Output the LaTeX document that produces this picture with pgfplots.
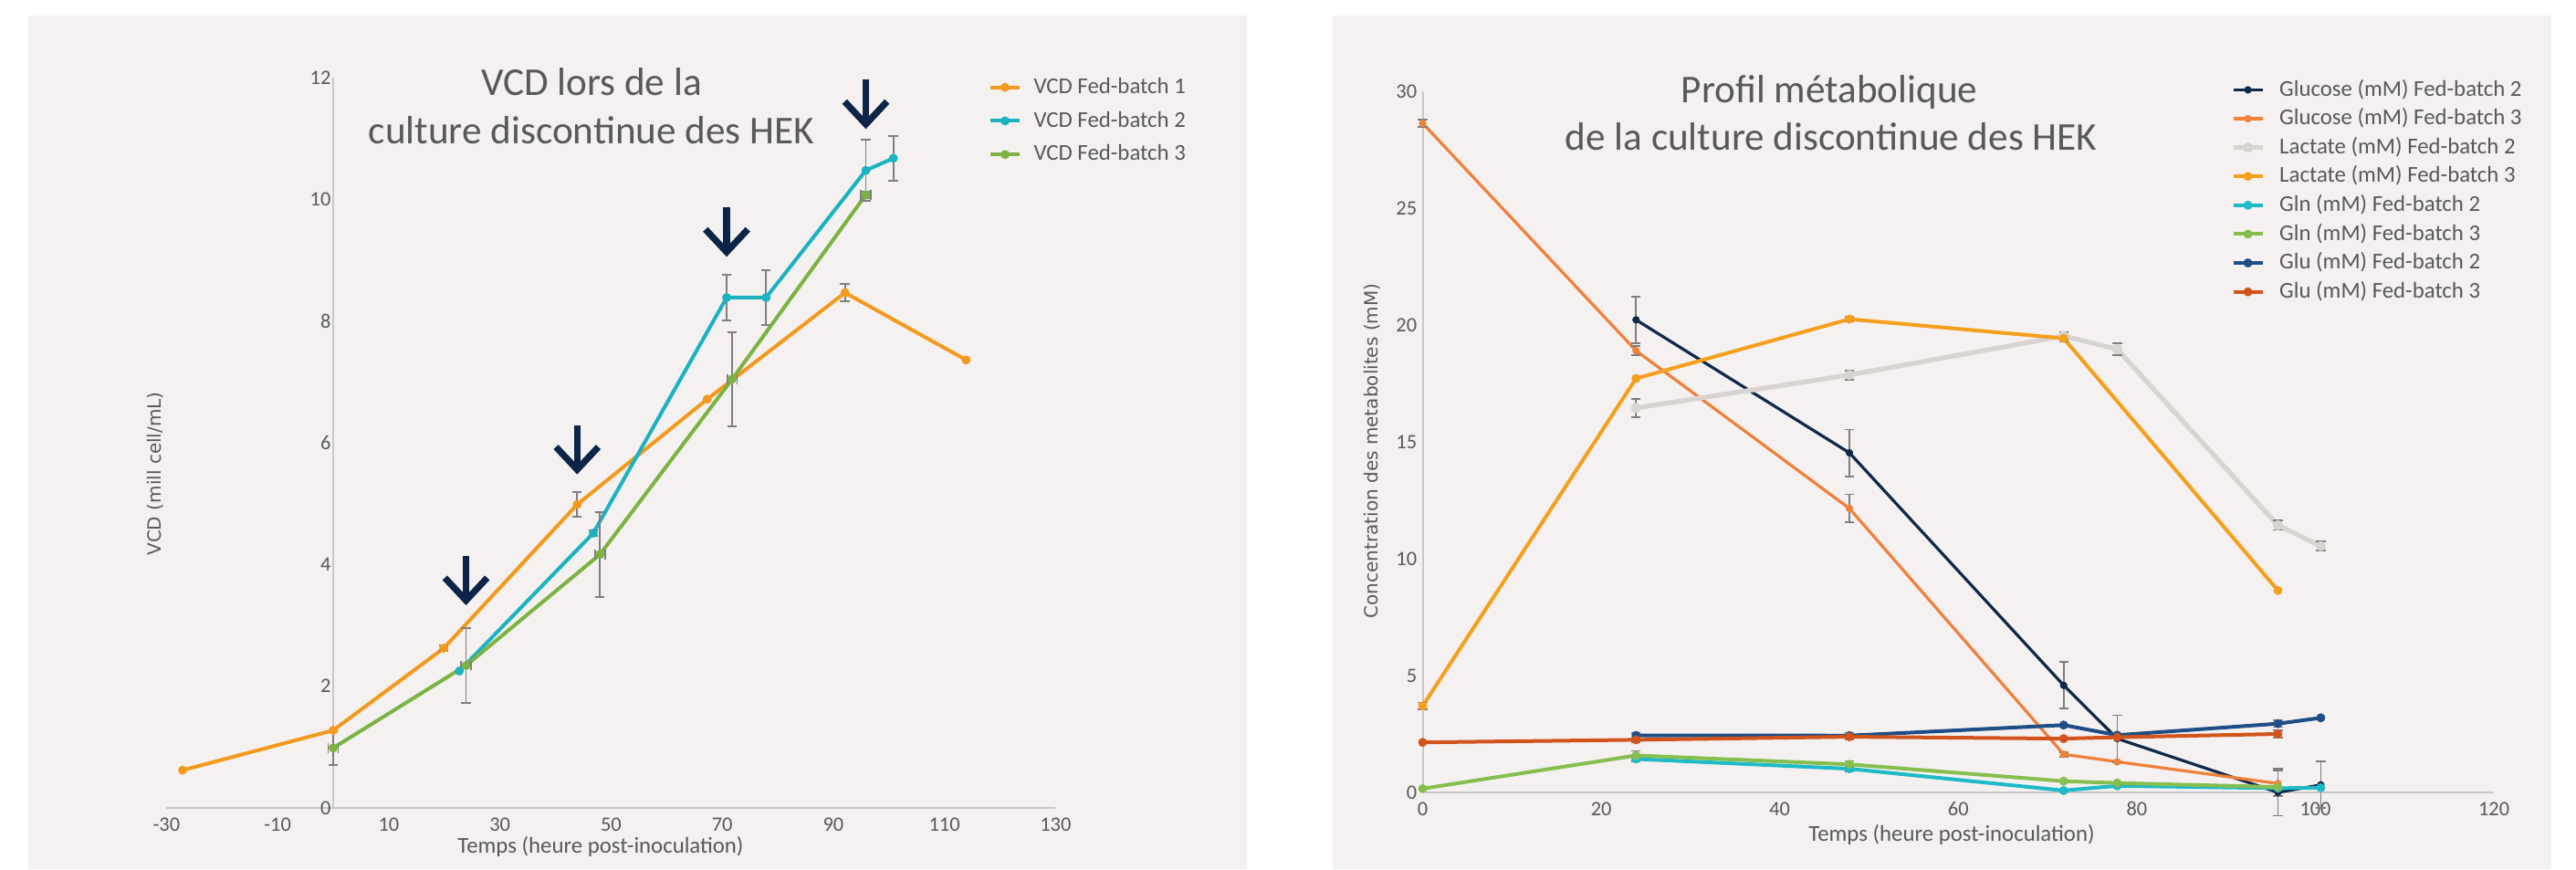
\documentclass[border=0pt]{standalone}
\usepackage{pgfplots}
\pgfplotsset{compat=1.18}
\usepackage{fontspec}
\setmainfont{Carlito}
\newfontfamily\dejavu{DejaVu Sans}

\definecolor{panel}{HTML}{F4F1F0}
\definecolor{txt}{HTML}{595959}
\definecolor{axg}{HTML}{C8C8C8}
\definecolor{errg}{HTML}{7F7F7F}
\definecolor{cA}{HTML}{F39A1E}
\definecolor{cB}{HTML}{1CB2C2}
\definecolor{cC}{HTML}{7CB342}
\definecolor{arr}{HTML}{0B2447}
\definecolor{glucB}{HTML}{10284A}
\definecolor{glucC}{HTML}{F0803A}
\definecolor{lacB}{HTML}{D9D3D2}
\definecolor{lacC}{HTML}{F5A01C}
\definecolor{glnB}{HTML}{1DBAC8}
\definecolor{glnC}{HTML}{86BE4F}
\definecolor{gluB}{HTML}{1F4E87}
\definecolor{gluC}{HTML}{D2541C}

\pgfplotsset{
  myax/.style={
    scale only axis, anchor=south west, clip=false,
    axis lines*=left,
    axis line style={draw=axg, line width=0.5pt},
    major tick length=0pt, tick style={draw=none},
    /pgf/number format/assume math mode=true,
    tick label style={font=\fontsize{5.6pt}{6pt}\selectfont, text=txt, inner sep=0pt},
    legend cell align=left,
    legend image code/.code={\draw[mark repeat=2,mark phase=2,##1] plot coordinates {(0pt,0pt) (4pt,0pt) (8pt,0pt)};},
  },
  errb/.style={forget plot, draw=none, mark=none,
    error bars/.cd, y dir=both, y explicit,
    error bar style={draw=errg, line width=0.45pt, solid},
    error mark options={rotate=90, draw=errg, line width=0.45pt, mark size=1.3pt}},
  errxy/.style={forget plot, draw=none, mark=none,
    error bars/.cd, y dir=both, y explicit, x dir=both, x explicit,
    error bar style={draw=errg, line width=0.45pt, solid},
    error mark options={rotate=90, draw=errg, line width=0.45pt, mark size=1.3pt}},
}

\newcommand{\feedarrow}[2]{%
  \draw[arr, line width=1.8pt] ([yshift=1.4pt]axis cs:#1,#2) -- ([yshift=13.6pt]axis cs:#1,#2);
  \draw[arr, line width=1.8pt, miter limit=10] ([shift={(-5.8pt,7.6pt)}]axis cs:#1,#2) -- ([yshift=1.4pt]axis cs:#1,#2) -- ([shift={(5.8pt,7.6pt)}]axis cs:#1,#2);
}

\begin{document}
\begin{tikzpicture}
\useasboundingbox (0,0) rectangle (705.5pt,238pt);
\fill[panel] (7.75pt,0) rectangle (341.5pt,233.75pt);
\fill[panel] (365pt,0) rectangle (698.75pt,233.75pt);

% ---------------- Left chart ----------------
\begin{axis}[myax,
  at={(45.6pt,16.75pt)}, width=243.5pt, height=200pt,
  xmin=-30, xmax=130, ymin=0, ymax=12,
  xtick={-30,-10,...,130}, ytick={0,2,...,12},
  y axis line style={draw=none},
  xticklabel style={yshift=-2.5pt},
  yticklabel style={anchor=east, xshift=45.2pt},
  legend style={at={(0.9246,1.0009)}, anchor=north west, draw=none, fill=none,
    inner sep=0pt, outer sep=0pt, row sep=3.5pt,
    font=\fontsize{6.2pt}{7pt}\selectfont, text=txt,
    nodes={inner sep=0pt, text height=4.5pt, text depth=1.2pt},
    /tikz/every odd column/.append style={column sep=3.4pt}},
]
\draw[axg, line width=0.5pt] (axis cs:0,0) -- (axis cs:0,12);
\addplot[cA, line width=1pt, mark=*, mark size=0.7pt] coordinates {
  (-27.1,0.62) (0,1.275) (19.9,2.625) (43.9,4.985) (67.3,6.715) (92.1,8.465) (113.9,7.36)};
\addlegendentry{VCD Fed-batch 1}
\addplot[cB, line width=1pt, mark=*, mark size=0.7pt] coordinates {
  (22.7,2.25) (46.8,4.515) (70.8,8.385) (77.9,8.385) (95.85,10.475) (100.8,10.675)};
\addlegendentry{VCD Fed-batch 2}
\addplot[cC, line width=1pt, mark=*, mark size=0.7pt] coordinates {
  (0,0.985) (23.9,2.34) (48.0,4.165) (71.8,7.045) (95.85,10.075)};
\addlegendentry{VCD Fed-batch 3}
\addplot[errb] coordinates {
  (19.9,2.625) +- (0,0.05) (43.9,4.985) +- (0,0.205) (92.1,8.465) +- (0,0.14)};
\addplot[errb] coordinates {
  (46.8,4.515) +- (0,0.05) (70.8,8.385) +- (0,0.37) (77.9,8.385) +- (0,0.45)
  (95.85,10.475) +- (0,0.5) (100.8,10.675) +- (0,0.37)};
\addplot[errxy] coordinates {
  (0,0.985) +- (0.9,0.275) (23.9,2.34) +- (0.9,0.61) (48.0,4.165) +- (0.9,0.7)
  (71.8,7.045) +- (0.9,0.77) (95.85,10.075) +- (0.9,0.05)};
\feedarrow{23.9}{3.325}
\feedarrow{43.9}{5.475}
\feedarrow{70.8}{9.05}
\feedarrow{95.85}{11.15}
\end{axis}

\node[anchor=base, font=\fontsize{10.8pt}{12pt}\selectfont, text=txt, inner sep=0pt] at (162pt,211.75pt) {VCD lors de la};
\node[anchor=base, font=\fontsize{10.8pt}{12pt}\selectfont, text=txt, inner sep=0pt] at (162pt,198.5pt) {culture discontinue des HEK};
\node[anchor=base, font=\fontsize{6.2pt}{7pt}\selectfont, text=txt, inner sep=0pt] at (164.5pt,4.5pt) {Temps (heure post-inoculation)};
\node[rotate=90, font=\dejavu\fontsize{5pt}{6pt}\selectfont, text=txt, inner sep=0pt] at (42.5pt,108.25pt) {VCD (mill cell/mL)};

% ---------------- Right chart ----------------
\begin{axis}[myax,
  at={(389.625pt,20.875pt)}, width=293.4pt, height=192pt,
  xmin=0, xmax=120, ymin=0, ymax=30,
  xtick={0,20,...,120}, ytick={0,5,...,30},
  xticklabel style={yshift=-2.3pt},
  yticklabel style={xshift=-1.4pt},
  legend style={at={(0.7545,1.0175)}, anchor=north west, draw=none, fill=none,
    inner sep=0pt, outer sep=0pt, row sep=2.2pt,
    font=\fontsize{6.2pt}{7pt}\selectfont, text=txt,
    nodes={inner sep=0pt, text height=4.5pt, text depth=1.2pt},
    /tikz/every odd column/.append style={column sep=4pt}},
]
\addplot[glucB, line width=0.8pt, mark=*, mark size=0.6pt] coordinates {
  (23.9,20.24) (47.8,14.55) (71.8,4.6) (77.8,2.32) (95.8,0.02) (100.6,0.34)};
\addlegendentry{Glucose (mM) Fed-batch 2}
\addplot[glucC, line width=0.8pt, mark=*, mark size=0.6pt] coordinates {
  (0,28.65) (23.9,18.92) (47.8,12.17) (71.8,1.65) (77.8,1.33) (95.8,0.40)};
\addlegendentry{Glucose (mM) Fed-batch 3}
\addplot[lacB, line width=1.3pt, mark=*, mark size=0.7pt] coordinates {
  (23.9,16.47) (47.8,17.88) (71.8,19.55) (77.8,18.98) (95.8,11.45) (100.6,10.56)};
\addlegendentry{Lactate (mM) Fed-batch 2}
\addplot[lacC, line width=1pt, mark=*, mark size=0.7pt] coordinates {
  (0,3.72) (23.9,17.73) (47.8,20.27) (71.8,19.45) (95.8,8.66)};
\addlegendentry{Lactate (mM) Fed-batch 3}
\addplot[glnB, line width=1pt, mark=*, mark size=0.7pt] coordinates {
  (23.9,1.45) (47.8,1.03) (71.8,0.1) (77.8,0.3) (95.8,0.2) (100.6,0.22)};
\addlegendentry{Gln (mM) Fed-batch 2}
\addplot[glnC, line width=1pt, mark=*, mark size=0.7pt] coordinates {
  (0,0.18) (23.9,1.6) (47.8,1.22) (71.8,0.5) (77.8,0.42) (95.8,0.25)};
\addlegendentry{Gln (mM) Fed-batch 3}
\addplot[gluB, line width=1pt, mark=*, mark size=0.7pt] coordinates {
  (23.9,2.46) (47.8,2.45) (71.8,2.9) (77.8,2.47) (95.8,2.96) (100.6,3.21)};
\addlegendentry{Glu (mM) Fed-batch 2}
\addplot[gluC, line width=1pt, mark=*, mark size=0.7pt] coordinates {
  (0,2.16) (23.9,2.27) (47.8,2.4) (71.8,2.32) (77.8,2.38) (95.8,2.52)};
\addlegendentry{Glu (mM) Fed-batch 3}
\addplot[errb] coordinates {
  (23.9,20.24) +- (0,1.0) (47.8,14.55) +- (0,1.0) (71.8,4.6) +- (0,1.0)
  (77.8,2.32) +- (0,1.0) (95.8,0.02) +- (0,1.0) (100.6,0.34) +- (0,1.0)};
\addplot[errb] coordinates {
  (0,28.65) +- (0,0.15) (23.9,18.92) +- (0,0.2) (47.8,12.17) +- (0,0.6)
  (71.8,1.65) +- (0,0.1) (95.8,0.40) +- (0,0.55)};
\addplot[errb] coordinates {
  (23.9,16.47) +- (0,0.4) (47.8,17.88) +- (0,0.2) (71.8,19.55) +- (0,0.15)
  (77.8,18.98) +- (0,0.25) (95.8,11.45) +- (0,0.2) (100.6,10.56) +- (0,0.2)};
\addplot[errb] coordinates {
  (0,3.72) +- (0,0.15) (47.8,20.27) +- (0,0.1) (71.8,19.45) +- (0,0.15)};
\addplot[errb] coordinates {
  (23.9,1.45) +- (0,0.1) (47.8,1.03) +- (0,0.1) (23.9,1.6) +- (0,0.2) (47.8,1.22) +- (0,0.15)
  (23.9,2.46) +- (0,0.1) (47.8,2.45) +- (0,0.1) (95.8,2.96) +- (0,0.15)
  (23.9,2.27) +- (0,0.1) (47.8,2.4) +- (0,0.1) (95.8,2.52) +- (0,0.15)};
\end{axis}

\node[anchor=base, font=\fontsize{10.8pt}{12pt}\selectfont, text=txt, inner sep=0pt] at (501pt,209.75pt) {Profil métabolique};
\node[anchor=base, font=\fontsize{10.8pt}{12pt}\selectfont, text=txt, inner sep=0pt] at (501.5pt,196.75pt) {de la culture discontinue des HEK};
\node[anchor=base, font=\fontsize{6.2pt}{7pt}\selectfont, text=txt, inner sep=0pt] at (534.5pt,7.6pt) {Temps (heure post-inoculation)};
\node[rotate=90, font=\dejavu\fontsize{5pt}{6pt}\selectfont, text=txt, inner sep=0pt] at (375.75pt,114.5pt) {Concentration des metabolites (mM)};
\end{tikzpicture}
\end{document}
